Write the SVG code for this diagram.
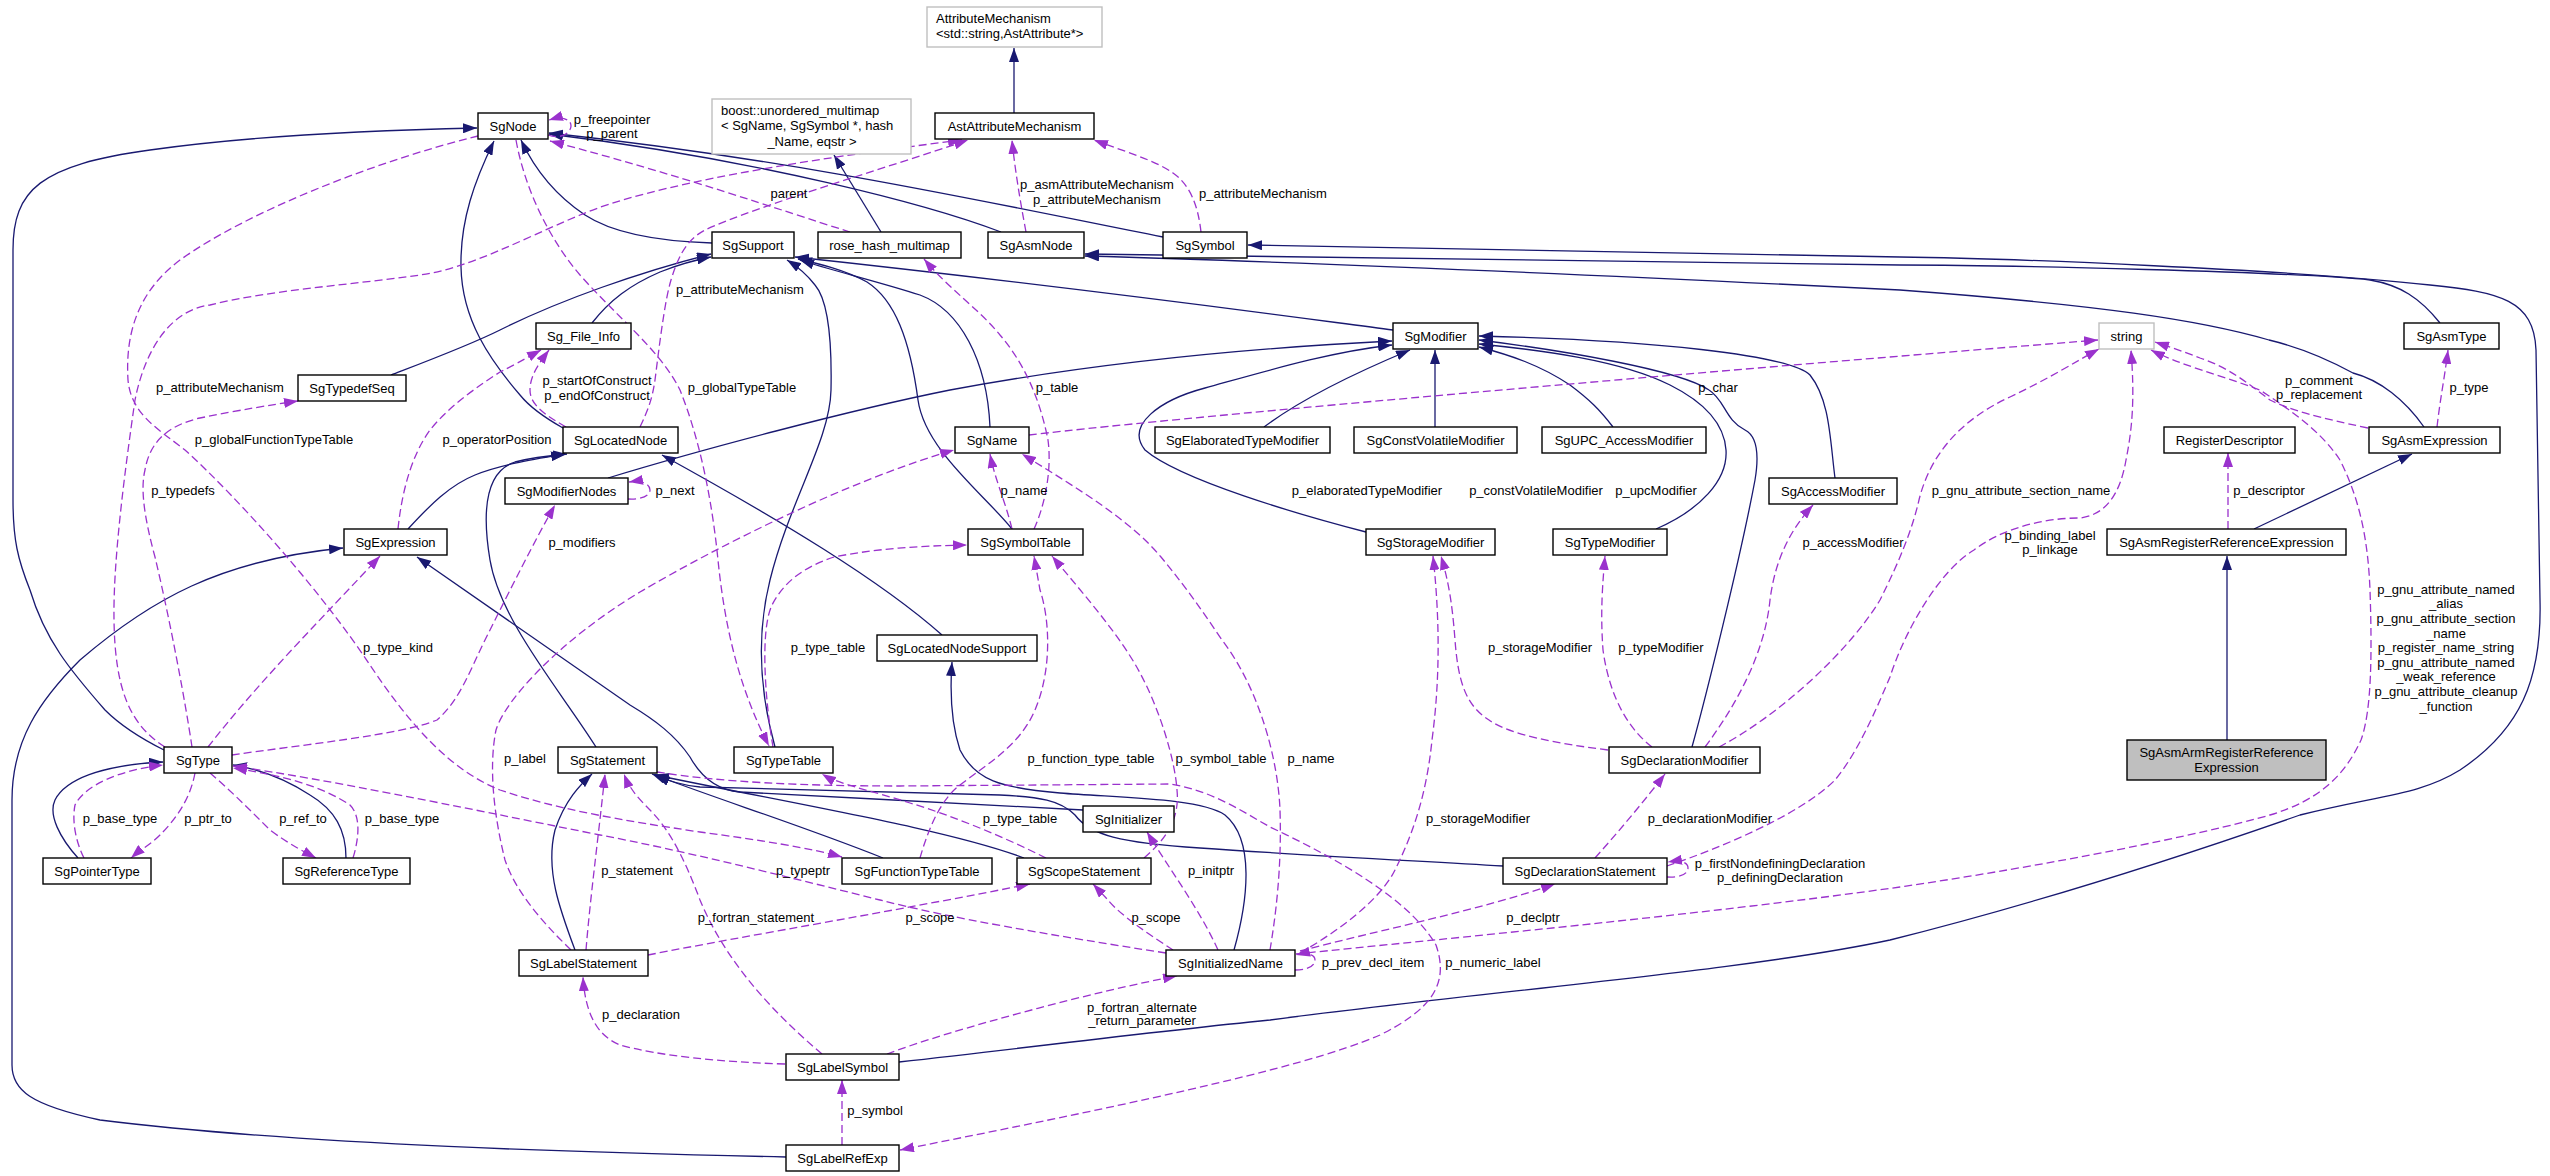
<svg xmlns="http://www.w3.org/2000/svg" width="2550" height="1176" viewBox="0 0 2550 1176">
<defs>
<marker id="ab" markerWidth="14" markerHeight="10" refX="14" refY="5" orient="auto" markerUnits="userSpaceOnUse"><path d="M0,0 L14,5 L0,10 z" fill="#191970"/></marker>
<marker id="ap" markerWidth="14" markerHeight="10" refX="14" refY="5" orient="auto" markerUnits="userSpaceOnUse"><path d="M0,0 L14,5 L0,10 z" fill="#9a32cd"/></marker>
<style>
text{font-family:"Liberation Sans",Arial,Helvetica,sans-serif;font-size:13px;fill:#000}
.nd rect{fill:#fff;stroke:#000;stroke-width:1.4}
.gr rect{fill:#fff;stroke:#bfbfbf;stroke-width:1.4}
.mn rect{fill:#bfbfbf;stroke:#000;stroke-width:1.4}
.nd text,.mn text{text-anchor:middle}
.i{fill:none;stroke:#191970;stroke-width:1.3;marker-end:url(#ab)}
.u{fill:none;stroke:#9a32cd;stroke-width:1.3;stroke-dasharray:8,4;marker-end:url(#ap)}
.lb text{text-anchor:middle}
</style>
</defs>
<rect width="2550" height="1176" fill="#fff"/>

<g id="edges">
<!-- inheritance -->
<path class="i" d="M1014,113 L1014,48"/>
<path class="i" d="M881,232 L834,155"/>
<path class="i" d="M712,243 C680,242 620,238 585,215 C555,195 535,170 521,140"/>
<path class="i" d="M1001,232 C930,205 760,160 549,134"/>
<path class="i" d="M1163,237 C1000,205 800,160 549,133"/>
<path class="i" d="M164,750 C140,738 120,725 105,710 C70,670 45,640 30,590 C18,560 13,540 13,500 L13,250 C13,190 40,165 150,150 C250,136 380,130 477,128"/>
<path class="i" d="M786,1157 C600,1153 300,1145 100,1120 C30,1105 12,1090 12,1065 L12,800 C12,740 40,700 80,660 C150,600 220,560 343,548"/>
<path class="i" d="M592,323 C610,300 630,285 660,272 C680,264 695,260 711,257"/>
<path class="i" d="M391,375 C430,360 470,345 500,330 C560,300 640,272 711,254"/>
<path class="i" d="M990,427 C987,360 960,310 920,295 C880,282 830,270 800,260"/>
<path class="i" d="M1012,529 C985,495 925,450 918,400 C910,340 895,300 867,282 C845,270 820,264 798,259"/>
<path class="i" d="M775,747 C762,700 755,640 770,580 C790,500 830,440 831,390 C832,340 828,300 815,285 C805,272 795,265 787,260"/>
<path class="i" d="M1393,330 C1300,318 1100,290 795,257"/>
<path class="i" d="M563,428 C540,415 528,405 520,395 C490,360 462,320 461,267 C460,220 475,180 494,141"/>
<path class="i" d="M408,529 C430,505 450,485 475,475 C500,465 530,460 565,454"/>
<path class="i" d="M596,747 C560,690 500,620 490,560 C480,500 490,470 515,462 C530,458 545,456 567,454"/>
<path class="i" d="M942,635 C880,580 780,520 662,455"/>
<path class="i" d="M608,478 C700,450 850,410 950,390 C1100,362 1250,348 1392,341"/>
<path class="i" d="M1366,532 C1300,515 1180,480 1145,450 C1125,425 1160,400 1205,388 C1270,370 1330,352 1392,345"/>
<path class="i" d="M1264,427 C1300,400 1350,375 1410,350"/>
<path class="i" d="M1435,427 L1435,350"/>
<path class="i" d="M1613,427 C1600,410 1590,400 1570,385 C1540,365 1510,355 1479,347"/>
<path class="i" d="M1656,529 C1700,510 1728,480 1726,450 C1724,420 1700,400 1670,385 C1620,360 1540,350 1479,344"/>
<path class="i" d="M1692,747 C1705,700 1740,560 1755,480 C1760,450 1755,435 1745,430 C1725,420 1725,400 1709,390 C1680,370 1560,350 1479,340"/>
<path class="i" d="M1835,478 C1830,440 1830,400 1810,375 C1790,355 1650,340 1479,336"/>
<path class="i" d="M575,950 C560,910 545,870 555,830 C565,800 580,785 592,774"/>
<path class="i" d="M883,858 C800,825 720,800 652,774"/>
<path class="i" d="M1024,858 C950,830 800,805 655,775"/>
<path class="i" d="M1503,866 C1400,860 1300,855 1200,848 C1120,843 1090,835 1075,815 C1060,800 1040,797 1000,795 L700,787 C680,785 668,781 656,775"/>
<path class="i" d="M1083,810 C1000,805 850,798 740,792 C715,790 700,775 690,757 C675,735 655,720 630,705 L417,557"/>
<path class="i" d="M1234,950 C1248,900 1255,840 1225,815 C1200,798 1120,798 1060,793 C1000,788 975,780 960,750 C950,720 950,690 952,662"/>
<path class="i" d="M899,1062 C1050,1045 1150,1032 1270,1020 C1500,990 1750,970 1890,940 C2050,900 2200,850 2300,815 C2380,795 2420,795 2460,770 C2520,730 2542,680 2540,600 L2536,350 C2534,300 2500,292 2430,285 C2300,270 2000,258 1900,257 L1248,245"/>
<path class="i" d="M2440,323 C2420,298 2400,285 2370,280 C2300,272 2000,265 1900,265 L1085,254"/>
<path class="i" d="M2424,427 C2405,400 2380,380 2353,373 C2320,355 2290,345 2269,340 C2200,320 2100,305 1900,290 C1600,275 1300,262 1085,256"/>
<path class="i" d="M2254,529 L2412,454"/>
<path class="i" d="M2227,740 L2227,556"/>
<path class="i" d="M78,858 C60,838 48,815 55,800 C65,780 100,765 163,762"/>
<path class="i" d="M346,858 C346,830 335,810 310,795 C290,782 265,770 233,765"/>
<!-- usage -->
<path class="u" d="M548,135 C562,140 571,132 571,126 C571,119 562,116 549,120"/>
<path class="u" d="M850,232 C780,210 680,175 550,141"/>
<path class="u" d="M1026,232 C1020,200 1015,170 1012,140"/>
<path class="u" d="M1201,232 C1198,205 1190,185 1173,173 C1155,160 1120,150 1094,140"/>
<path class="u" d="M640,427 C648,410 652,400 655,380 C660,340 665,300 671,280 C680,250 690,238 705,230 C760,205 880,170 968,140"/>
<path class="u" d="M165,747 C130,725 115,690 114,620 C113,560 125,470 135,400 C145,350 170,310 210,305 C270,290 350,285 420,275 C470,268 520,240 580,215 C650,185 800,160 962,140"/>
<path class="u" d="M478,136 C380,160 250,210 180,260 C140,290 125,330 128,380 C131,415 160,430 185,450 C240,500 320,590 370,665 C410,725 450,770 500,790 C560,810 620,820 700,832 C760,840 810,848 842,857"/>
<path class="u" d="M516,140 C525,190 550,240 580,275 C620,320 660,350 680,390 C700,440 712,500 718,560 C725,630 740,690 769,746"/>
<path class="u" d="M566,427 C545,415 530,405 530,390 C530,375 540,362 549,350"/>
<path class="u" d="M398,529 C402,490 412,455 430,430 C450,405 480,385 500,372 C520,362 530,356 541,350"/>
<path class="u" d="M628,499 C640,500 650,496 650,490 C650,484 642,480 629,482"/>
<path class="u" d="M232,755 C300,745 400,735 437,720 C460,700 470,670 485,640 C510,590 535,540 555,505"/>
<path class="u" d="M1012,529 C1005,500 995,480 990,454"/>
<path class="u" d="M1034,529 C1045,505 1052,470 1048,440 C1042,410 1030,370 1000,335 C980,310 950,290 924,259"/>
<path class="u" d="M1029,435 C1200,415 1700,372 2098,340"/>
<path class="u" d="M571,950 C540,920 515,890 505,860 C495,820 488,770 496,730 C505,700 560,640 640,592 C720,545 850,480 954,450"/>
<path class="u" d="M1270,950 C1275,920 1282,870 1280,810 C1278,760 1260,690 1222,640 C1195,600 1180,580 1161,557 C1130,520 1080,490 1022,454"/>
<path class="u" d="M1144,858 C1165,840 1180,820 1177,790 C1175,760 1160,710 1140,673 C1120,635 1080,590 1052,556"/>
<path class="u" d="M920,858 C928,830 940,800 960,785 C990,762 1020,745 1035,710 C1052,670 1050,620 1040,590 L1034,556"/>
<path class="u" d="M773,747 C765,700 760,630 772,605 C785,580 805,567 834,557 C880,548 920,546 967,545"/>
<path class="u" d="M1046,858 C1000,835 950,815 910,803 C870,790 840,785 822,774"/>
<path class="u" d="M1173,950 C1150,935 1120,915 1108,900 L1093,884"/>
<path class="u" d="M648,955 C750,935 900,910 1030,884"/>
<path class="u" d="M1166,953 C1050,935 950,918 880,900 C780,875 680,850 600,835 C450,805 330,780 233,766"/>
<path class="u" d="M822,1054 C770,1010 725,960 700,900 C685,860 670,830 650,810 C640,800 630,790 624,774"/>
<path class="u" d="M586,950 C590,900 598,840 605,774"/>
<path class="u" d="M785,1064 C720,1062 660,1056 620,1045 C595,1035 585,1010 583,977"/>
<path class="u" d="M887,1054 C950,1030 1100,990 1177,976"/>
<path class="u" d="M842,1145 L842,1080"/>
<path class="u" d="M657,772 C720,782 800,786 900,786 L1170,784 C1210,790 1240,810 1270,827 C1340,860 1410,900 1436,945 C1450,985 1430,1010 1380,1035 C1300,1070 1100,1110 900,1150"/>
<path class="u" d="M1218,950 C1200,910 1170,870 1147,832"/>
<path class="u" d="M1300,953 C1340,930 1380,900 1395,870 C1415,830 1427,790 1432,740 C1440,680 1440,620 1433,556"/>
<path class="u" d="M1608,750 C1560,744 1510,735 1489,720 C1465,705 1458,680 1455,640 C1452,600 1448,580 1441,556"/>
<path class="u" d="M1652,747 C1630,730 1610,700 1603,650 C1600,610 1603,580 1605,556"/>
<path class="u" d="M1705,747 C1740,700 1765,650 1770,600 C1775,560 1790,530 1813,505"/>
<path class="u" d="M1719,747 C1780,715 1850,650 1880,600 C1900,560 1912,530 1919,500 C1930,455 1960,420 2010,397 C2050,378 2075,362 2099,349"/>
<path class="u" d="M1667,866 C1720,848 1800,815 1835,780 C1860,750 1880,700 1890,677 C1905,630 1940,570 1974,550 C2000,530 2040,518 2080,518 C2105,515 2120,495 2126,460 C2132,430 2135,400 2131,350"/>
<path class="u" d="M1667,877 C1680,878 1688,874 1688,868 C1688,862 1680,860 1668,862"/>
<path class="u" d="M1595,858 C1620,830 1645,800 1665,774"/>
<path class="u" d="M1300,951 C1380,930 1480,910 1555,884"/>
<path class="u" d="M1295,970 C1310,970 1315,965 1315,960 C1315,955 1308,952 1296,955"/>
<path class="u" d="M1296,954 C1450,938 1700,915 1900,887 C2050,865 2200,835 2270,815 C2320,800 2345,775 2361,740 C2372,710 2372,650 2370,590 C2368,540 2360,500 2340,460 C2320,430 2290,410 2260,390 C2220,375 2180,365 2151,350"/>
<path class="u" d="M2368,428 C2320,418 2290,410 2270,400 C2250,385 2230,368 2200,358 C2185,352 2170,347 2155,342"/>
<path class="u" d="M2437,427 C2440,400 2445,375 2448,350"/>
<path class="u" d="M2228,529 L2228,453"/>
<path class="u" d="M195,773 C190,800 175,820 160,835 C150,845 140,850 131,858"/>
<path class="u" d="M210,773 C230,790 250,810 270,830 C290,845 305,852 316,858"/>
<path class="u" d="M84,858 C75,840 72,820 75,805 C85,785 120,770 163,765"/>
<path class="u" d="M353,858 C360,835 360,815 350,805 C320,785 280,775 233,768"/>
<path class="u" d="M192,747 C185,700 170,620 155,557 C145,520 140,490 145,470 C150,440 170,425 200,418 C240,410 270,405 298,401"/>
<path class="u" d="M208,747 C260,680 330,610 380,556"/>
</g>

<g id="edge-labels" class="lb">
<text x="612" y="124">p_freepointer</text><text x="612" y="138">p_parent</text>
<text x="789" y="198">parent</text>
<text x="1097" y="189">p_asmAttributeMechanism</text><text x="1097" y="204">p_attributeMechanism</text>
<text x="1263" y="198">p_attributeMechanism</text>
<text x="740" y="294">p_attributeMechanism</text>
<text x="220" y="392">p_attributeMechanism</text>
<text x="597" y="385">p_startOfConstruct</text><text x="597" y="400">p_endOfConstruct</text>
<text x="742" y="392">p_globalTypeTable</text>
<text x="1057" y="392">p_table</text>
<text x="1718" y="392">p_char</text>
<text x="2319" y="385">p_comment</text><text x="2319" y="399">p_replacement</text>
<text x="2469" y="392">p_type</text>
<text x="274" y="444">p_globalFunctionTypeTable</text>
<text x="497" y="444">p_operatorPosition</text>
<text x="183" y="495">p_typedefs</text>
<text x="675" y="495">p_next</text>
<text x="1024" y="495">p_name</text>
<text x="1367" y="495">p_elaboratedTypeModifier</text>
<text x="1536" y="495">p_constVolatileModifier</text>
<text x="1656" y="495">p_upcModifier</text>
<text x="2021" y="495">p_gnu_attribute_section_name</text>
<text x="2269" y="495">p_descriptor</text>
<text x="582" y="547">p_modifiers</text>
<text x="1853" y="547">p_accessModifier</text>
<text x="2050" y="540">p_binding_label</text><text x="2050" y="554">p_linkage</text>
<text x="398" y="652">p_type_kind</text>
<text x="828" y="652">p_type_table</text>
<text x="1540" y="652">p_storageModifier</text>
<text x="1661" y="652">p_typeModifier</text>
<text x="2446" y="594">p_gnu_attribute_named</text>
<text x="2446" y="608">_alias</text>
<text x="2446" y="623">p_gnu_attribute_section</text>
<text x="2446" y="638">_name</text>
<text x="2446" y="652">p_register_name_string</text>
<text x="2446" y="667">p_gnu_attribute_named</text>
<text x="2446" y="681">_weak_reference</text>
<text x="2446" y="696">p_gnu_attribute_cleanup</text>
<text x="2446" y="711">_function</text>
<text x="525" y="763">p_label</text>
<text x="1091" y="763">p_function_type_table</text>
<text x="1221" y="763">p_symbol_table</text>
<text x="1311" y="763">p_name</text>
<text x="120" y="823">p_base_type</text>
<text x="208" y="823">p_ptr_to</text>
<text x="303" y="823">p_ref_to</text>
<text x="402" y="823">p_base_type</text>
<text x="1020" y="823">p_type_table</text>
<text x="1478" y="823">p_storageModifier</text>
<text x="1710" y="823">p_declarationModifier</text>
<text x="1780" y="868">p_firstNondefiningDeclaration</text><text x="1780" y="882">p_definingDeclaration</text>
<text x="637" y="875">p_statement</text>
<text x="803" y="875">p_typeptr</text>
<text x="1211" y="875">p_initptr</text>
<text x="756" y="922">p_fortran_statement</text>
<text x="930" y="922">p_scope</text>
<text x="1156" y="922">p_scope</text>
<text x="1533" y="922">p_declptr</text>
<text x="1373" y="967">p_prev_decl_item</text>
<text x="1493" y="967">p_numeric_label</text>
<text x="1142" y="1012">p_fortran_alternate</text><text x="1142" y="1025">_return_parameter</text>
<text x="641" y="1019">p_declaration</text>
<text x="875" y="1115">p_symbol</text>
</g>

<g id="AttributeMechanism" class="gr"><rect x="927" y="7" width="175" height="40"/><text x="936" y="23">AttributeMechanism</text><text x="936" y="38">&lt;std::string,AstAttribute*&gt;</text></g>
<g id="boost_unordered_multimap" class="gr"><rect x="712" y="99" width="199" height="55"/><text x="721" y="115">boost::unordered_multimap</text><text x="721" y="130">&lt; SgName, SgSymbol *, hash</text><text x="812" y="146" text-anchor="middle">_Name, eqstr &gt;</text></g>
<g id="AstAttributeMechanism" class="nd"><rect x="935" y="113" width="159" height="26"/><text x="1014.5" y="130.5">AstAttributeMechanism</text></g>
<g id="SgNode" class="nd"><rect x="478" y="113" width="70" height="26"/><text x="513" y="130.5">SgNode</text></g>
<g id="SgSupport" class="nd"><rect x="712" y="232" width="82" height="26"/><text x="753" y="249.5">SgSupport</text></g>
<g id="rose_hash_multimap" class="nd"><rect x="818" y="232" width="143" height="26"/><text x="889.5" y="249.5">rose_hash_multimap</text></g>
<g id="SgAsmNode" class="nd"><rect x="988" y="232" width="96" height="26"/><text x="1036" y="249.5">SgAsmNode</text></g>
<g id="SgSymbol" class="nd"><rect x="1163" y="232" width="84" height="26"/><text x="1205" y="249.5">SgSymbol</text></g>
<g id="Sg_File_Info" class="nd"><rect x="536" y="323" width="95" height="26"/><text x="583.5" y="340.5">Sg_File_Info</text></g>
<g id="SgModifier" class="nd"><rect x="1393" y="323" width="85" height="26"/><text x="1435.5" y="340.5">SgModifier</text></g>
<g id="string" class="gr"><rect x="2099" y="323" width="55" height="26"/><text x="2126.5" y="340.5" text-anchor="middle">string</text></g>
<g id="SgAsmType" class="nd"><rect x="2404" y="323" width="95" height="26"/><text x="2451.5" y="340.5">SgAsmType</text></g>
<g id="SgTypedefSeq" class="nd"><rect x="298" y="375" width="108" height="26"/><text x="352" y="392.5">SgTypedefSeq</text></g>
<g id="SgLocatedNode" class="nd"><rect x="563" y="427" width="115" height="26"/><text x="620.5" y="444.5">SgLocatedNode</text></g>
<g id="SgName" class="nd"><rect x="955" y="427" width="74" height="26"/><text x="992" y="444.5">SgName</text></g>
<g id="SgElaboratedTypeModifier" class="nd"><rect x="1155" y="427" width="175" height="26"/><text x="1242.5" y="444.5">SgElaboratedTypeModifier</text></g>
<g id="SgConstVolatileModifier" class="nd"><rect x="1354" y="427" width="163" height="26"/><text x="1435.5" y="444.5">SgConstVolatileModifier</text></g>
<g id="SgUPC_AccessModifier" class="nd"><rect x="1542" y="427" width="164" height="26"/><text x="1624" y="444.5">SgUPC_AccessModifier</text></g>
<g id="RegisterDescriptor" class="nd"><rect x="2164" y="427" width="131" height="26"/><text x="2229.5" y="444.5">RegisterDescriptor</text></g>
<g id="SgAsmExpression" class="nd"><rect x="2369" y="427" width="131" height="26"/><text x="2434.5" y="444.5">SgAsmExpression</text></g>
<g id="SgModifierNodes" class="nd"><rect x="505" y="478" width="123" height="26"/><text x="566.5" y="495.5">SgModifierNodes</text></g>
<g id="SgAccessModifier" class="nd"><rect x="1769" y="478" width="128" height="26"/><text x="1833" y="495.5">SgAccessModifier</text></g>
<g id="SgExpression" class="nd"><rect x="344" y="529" width="103" height="26"/><text x="395.5" y="546.5">SgExpression</text></g>
<g id="SgSymbolTable" class="nd"><rect x="968" y="529" width="115" height="26"/><text x="1025.5" y="546.5">SgSymbolTable</text></g>
<g id="SgStorageModifier" class="nd"><rect x="1366" y="529" width="129" height="26"/><text x="1430.5" y="546.5">SgStorageModifier</text></g>
<g id="SgTypeModifier" class="nd"><rect x="1553" y="529" width="114" height="26"/><text x="1610" y="546.5">SgTypeModifier</text></g>
<g id="SgAsmRegisterReferenceExpression" class="nd"><rect x="2107" y="529" width="239" height="26"/><text x="2226.5" y="546.5">SgAsmRegisterReferenceExpression</text></g>
<g id="SgLocatedNodeSupport" class="nd"><rect x="877" y="635" width="160" height="26"/><text x="957" y="652.5">SgLocatedNodeSupport</text></g>
<g id="SgType" class="nd"><rect x="164" y="747" width="68" height="26"/><text x="198" y="764.5">SgType</text></g>
<g id="SgStatement" class="nd"><rect x="558" y="747" width="99" height="26"/><text x="607.5" y="764.5">SgStatement</text></g>
<g id="SgTypeTable" class="nd"><rect x="734" y="747" width="99" height="26"/><text x="783.5" y="764.5">SgTypeTable</text></g>
<g id="SgDeclarationModifier" class="nd"><rect x="1609" y="747" width="151" height="26"/><text x="1684.5" y="764.5">SgDeclarationModifier</text></g>
<g id="SgAsmArmRegisterReferenceExpression" class="mn"><rect x="2127" y="740" width="199" height="40"/><text x="2226.5" y="757">SgAsmArmRegisterReference</text><text x="2226.5" y="772">Expression</text></g>
<g id="SgInitializer" class="nd"><rect x="1083" y="806" width="91" height="26"/><text x="1128.5" y="823.5">SgInitializer</text></g>
<g id="SgPointerType" class="nd"><rect x="43" y="858" width="108" height="26"/><text x="97" y="875.5">SgPointerType</text></g>
<g id="SgReferenceType" class="nd"><rect x="283" y="858" width="127" height="26"/><text x="346.5" y="875.5">SgReferenceType</text></g>
<g id="SgFunctionTypeTable" class="nd"><rect x="842" y="858" width="150" height="26"/><text x="917" y="875.5">SgFunctionTypeTable</text></g>
<g id="SgScopeStatement" class="nd"><rect x="1017" y="858" width="134" height="26"/><text x="1084" y="875.5">SgScopeStatement</text></g>
<g id="SgDeclarationStatement" class="nd"><rect x="1503" y="858" width="164" height="26"/><text x="1585" y="875.5">SgDeclarationStatement</text></g>
<g id="SgLabelStatement" class="nd"><rect x="519" y="950" width="129" height="26"/><text x="583.5" y="967.5">SgLabelStatement</text></g>
<g id="SgInitializedName" class="nd"><rect x="1166" y="950" width="129" height="26"/><text x="1230.5" y="967.5">SgInitializedName</text></g>
<g id="SgLabelSymbol" class="nd"><rect x="786" y="1054" width="113" height="26"/><text x="842.5" y="1071.5">SgLabelSymbol</text></g>
<g id="SgLabelRefExp" class="nd"><rect x="786" y="1145" width="113" height="26"/><text x="842.5" y="1162.5">SgLabelRefExp</text></g>
</svg>
